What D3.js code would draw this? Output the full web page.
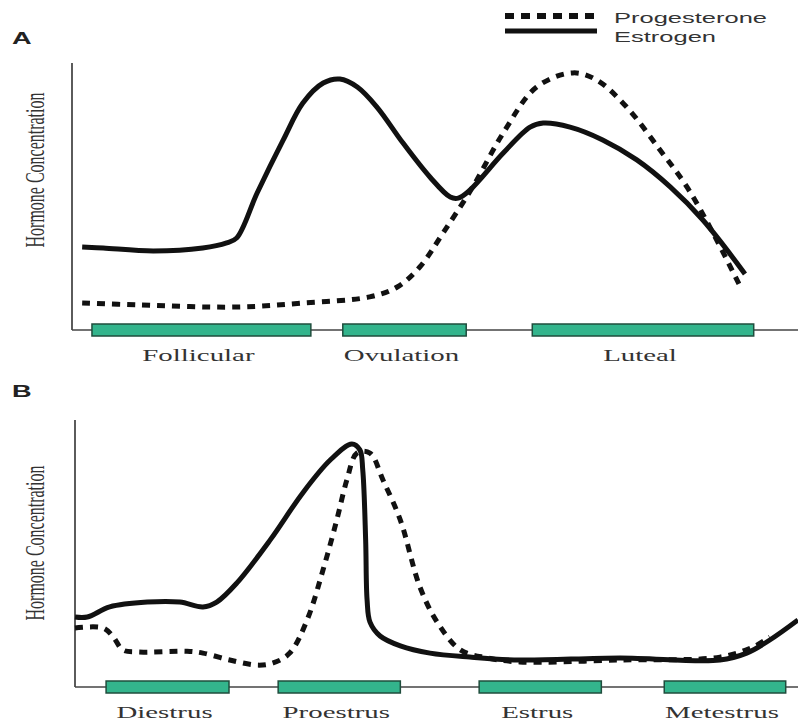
<!DOCTYPE html>
<html><head><meta charset="utf-8">
<script src="https://cdn.jsdelivr.net/npm/d3@7"></script>
<style>body{margin:0;background:#fff}svg{display:block}</style>
</head><body><svg id="chart" width="798" height="722"></svg>
<script>
// ---------------- DATA ----------------
const seriesNames = ["Progesterone", "Estrogen"];
const yAxisLabel = "Hormone Concentration";

// Panel A: menstrual cycle (x: cycle position 0-100, y: relative concentration 0-100)
const phasesA = ["Follicular", "Ovulation", "Luteal"];
const phaseStartA = [2.75, 37.3, 63.4];
const phaseEndA = [32.9, 54.3, 93.9];
const estrogenA = [[1.4,31.1],[4.3,30.7],[11.2,29.6],[18.0,30.7],[21.3,32.6],[22.7,34.5],[25.5,51.3],[29.1,71.2],[31.8,85.0],[34.6,92.5],[36.9,94.0],[39.3,91.0],[42.0,83.5],[45.6,70.0],[49.3,57.3],[52.1,49.8],[53.2,49.4],[54.8,52.4],[59.4,66.3],[63.1,76.0],[64.9,77.5],[68.6,76.0],[73.1,71.2],[77.8,63.7],[82.4,53.6],[86.9,41.2],[92.7,21.0]];
const progesteroneA = [[1.4,10.1],[9.0,9.4],[22.7,8.6],[31.8,10.1],[41.0,12.4],[44.8,16.1],[47.9,23.6],[51.1,36.3],[55.2,53.6],[59.4,73.8],[64.0,91.0],[69.0,96.3],[72.3,93.6],[76.4,83.5],[81.0,67.4],[84.7,53.6],[88.3,36.3],[92.0,16.5]];

// Panel B: estrous cycle
const phasesB = ["Diestrus", "Proestrus", "Estrus", "Metestrus"];
const phaseStartB = [4.3, 28.1, 55.9, 81.5];
const phaseEndB = [21.3, 45.0, 72.8, 98.3];
const estrogenB = [[0,26.2],[1.7,26.2],[4.8,30.0],[10.0,31.8],[14.5,31.8],[17.7,30.0],[19.6,31.8],[22.4,39.0],[27.0,55.1],[31.5,72.7],[35.3,85.0],[38.3,91.0],[39.4,88.8],[39.8,81.3],[40.2,55.1],[40.4,32.6],[40.8,24.3],[42.2,19.1],[45.0,15.4],[49.1,12.7],[54.6,11.2],[61.5,10.1],[75.4,10.9],[89.2,10.1],[92.9,12.7],[96.1,17.6],[100,25.1]];
const progesteroneB = [[0,22.1],[3.9,22.1],[5.3,18.7],[6.6,13.9],[8.6,13.1],[15.5,13.4],[17.7,12.7],[21.4,10.1],[25.2,8.2],[27.4,9.0],[29.7,12.7],[32.1,25.1],[34.3,43.8],[36.2,62.5],[37.6,77.5],[39.0,87.6],[40.8,87.6],[42.6,77.5],[45.0,62.5],[47.7,37.5],[50.1,24.3],[53.3,13.9],[57.0,10.9],[61.5,9.4],[75.4,10.1],[89.2,11.2],[93.8,15.0],[96.1,18.7]];

// ---------------- DRAWING ----------------
const svg = d3.select("#chart");
svg.append("rect").attr("width", 798).attr("height", 722).attr("fill", "#fff");
const SX = 1.65; // horizontal glyph stretch seen in the reference

function stretchText(x, y, txt, o) {
  return svg.append("text")
    .attr("transform", `translate(${x},${y}) scale(${o.sx || SX},1)`)
    .attr("text-anchor", o.anchor || "start")
    .attr("font-family", o.family)
    .attr("font-size", o.size)
    .attr("font-weight", o.weight || "normal")
    .attr("fill", o.fill || "#333")
    .text(txt);
}

function panel(cfg) {
  const x = d3.scaleLinear().domain([0, 100]).range([cfg.left, 798]);
  const y = d3.scaleLinear().domain([0, 100]).range([cfg.bottom, cfg.top]);
  const g = svg.append("g");
  g.append("line").attr("x1", x(0)).attr("x2", x(0)).attr("y1", y(100)).attr("y2", y(0))
    .attr("stroke", "#333").attr("stroke-width", 1.6);
  g.append("line").attr("x1", x(0)).attr("x2", x(100)).attr("y1", y(0)).attr("y2", y(0))
    .attr("stroke", "#444").attr("stroke-width", 1.6);
  cfg.phases.forEach((p, i) => {
    g.append("rect")
      .attr("x", x(cfg.starts[i])).attr("y", y(0) - 6)
      .attr("width", x(cfg.ends[i]) - x(cfg.starts[i])).attr("height", 12)
      .attr("fill", "#33b48c").attr("stroke", "#1f4d3d").attr("stroke-width", 1.5);
    stretchText((x(cfg.starts[i]) + x(cfg.ends[i])) / 2 - 3, y(0) + 31, p,
      {anchor: "middle", family: "Liberation Serif, Times New Roman, serif", size: 17.5, fill: "#333"});
  });
  const line = d3.line().x(d => x(d[0])).y(d => y(d[1])).curve(d3.curveCatmullRom.alpha(0.5));
  g.append("path").attr("d", line(cfg.prog)).attr("fill", "none")
    .attr("stroke", "#111").attr("stroke-width", 5).attr("stroke-dasharray", "8,7");
  g.append("path").attr("d", line(cfg.estr)).attr("fill", "none")
    .attr("stroke", "#111").attr("stroke-width", 5).attr("stroke-linejoin", "round");
  svg.append("text")
    .attr("transform", `translate(${cfg.labelX},${cfg.labelY}) rotate(-90) scale(1,${SX})`)
    .attr("text-anchor", "middle").attr("dy", "0.35em")
    .attr("font-family", "Liberation Serif, Times New Roman, serif").attr("font-size", 16)
    .attr("fill", "#333").text(yAxisLabel);
  stretchText(12, cfg.letterY, cfg.letter, {family: "Liberation Sans, Arial, sans-serif", size: 16, weight: "bold", fill: "#222", sx: 1.7});
}

panel({left: 72, top: 63, bottom: 330, phases: phasesA, starts: phaseStartA, ends: phaseEndA,
  estr: estrogenA, prog: progesteroneA, labelX: 35, labelY: 170, letter: "A", letterY: 44});
panel({left: 75, top: 420, bottom: 687, phases: phasesB, starts: phaseStartB, ends: phaseEndB,
  estr: estrogenB, prog: progesteroneB, labelX: 35, labelY: 543, letter: "B", letterY: 397});

const legendY = [16, 31];
svg.append("line").attr("x1", 505).attr("x2", 597).attr("y1", legendY[0]).attr("y2", legendY[0])
  .attr("stroke", "#111").attr("stroke-width", 6).attr("stroke-dasharray", "9,7");
svg.append("line").attr("x1", 505).attr("x2", 597).attr("y1", legendY[1]).attr("y2", legendY[1])
  .attr("stroke", "#111").attr("stroke-width", 5);
seriesNames.forEach((s, i) => {
  stretchText(614, legendY[i] + [7, 11][i], s, {family: "Liberation Sans, Arial, sans-serif", size: 15, fill: "#333", sx: 1.7});
});
</script></body></html>
